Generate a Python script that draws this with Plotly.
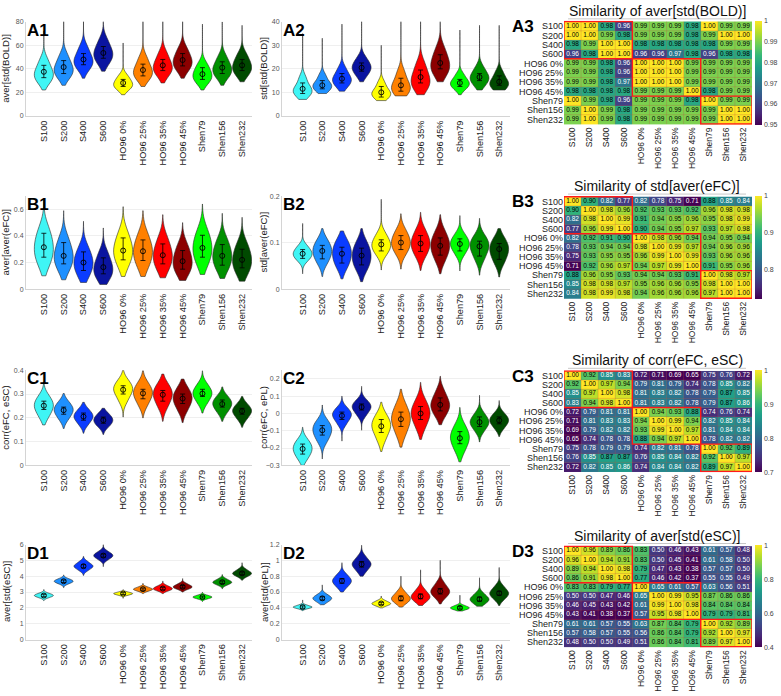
import plotly.graph_objects as go
from plotly.subplots import make_subplots

W, H = 781, 696

cats = ["S100", "S200", "S400", "S600", "HO96 0%", "HO96 25%", "HO96 35%",
        "HO96 45%", "Shen79", "Shen156", "Shen232"]
colors = ["#3ff5f5", "#1e90ff", "#0a3cff", "#0a14a0", "#ffff00", "#ff8000",
          "#ff0000", "#8c0000", "#00ff00", "#009000", "#004a00"]

# ---- violin data: five evenly spaced quantiles (10..90%), tip range, mean, error bar ends
a1_quant = [[29, 33, 36, 40, 47], [33, 37, 40, 44, 51], [40, 44.5, 47, 51, 58],
            [45, 50, 53, 57, 64], [22.5, 25.5, 27, 30, 34], [31.5, 35, 38, 42, 49],
            [35, 39, 42, 46, 53], [39, 43.5, 46.5, 50.5, 57], [28.5, 32, 35, 38.5, 44],
            [33, 37, 40, 43.5, 50], [35, 39, 42, 46, 52]]
a1_span = [[22, 72], [26, 85], [32, 85], [38, 85], [18, 62], [25, 85], [28, 85],
           [32, 85], [22, 78], [26, 80], [29, 77]]
a1_mean = [37.5, 41.5, 48, 53.5, 28, 39, 43, 47.5, 35.5, 41, 43]
a1_err = [[32.5, 43], [36, 47], [43.5, 53], [49, 59], [25, 31], [34, 44], [38.5, 48],
          [42.5, 53], [31, 41], [36, 46], [38.5, 48]]

a2_quant = [[8.5, 10, 11, 12.5, 16], [10.5, 12, 13, 14, 17], [12.5, 14.5, 15.5, 17, 20],
            [17, 19.5, 20.5, 22, 24.5], [7.5, 8.8, 9.7, 11, 14], [9.5, 11, 12.5, 14.5, 18.5],
            [11.5, 13.5, 15.5, 18, 22], [17.5, 20, 22, 24.5, 28.5], [11.5, 13, 14, 15, 17.5],
            [13, 15, 16.5, 17.5, 20.5], [11.5, 13, 14, 15.5, 18.5]]
a2_span = [[7, 35], [9.5, 33], [10.5, 39], [14.5, 45], [6.5, 30], [8.5, 45], [9, 45],
           [14.5, 45], [9, 36.5], [11, 38.5], [11, 38.5]]
a2_mean = [11.5, 13, 15.8, 20.5, 10, 13, 16.5, 22.5, 14, 16.5, 14.5]
a2_err = [[9.5, 14], [11.5, 15], [14, 18], [19, 22.5], [8, 12.5], [10.5, 16], [14, 19.5],
          [20, 26], [12.5, 15.5], [15, 18], [13, 17]]

b1_quant = [[0.19, 0.26, 0.31, 0.37, 0.45], [0.15, 0.21, 0.25, 0.30, 0.38],
            [0.10, 0.16, 0.20, 0.24, 0.31], [0.08, 0.12, 0.16, 0.20, 0.27],
            [0.18, 0.25, 0.29, 0.34, 0.42], [0.17, 0.24, 0.285, 0.33, 0.41],
            [0.15, 0.21, 0.255, 0.30, 0.38], [0.12, 0.17, 0.21, 0.26, 0.33],
            [0.19, 0.26, 0.31, 0.36, 0.44], [0.15, 0.21, 0.25, 0.30, 0.37],
            [0.12, 0.18, 0.22, 0.27, 0.34]]
b1_span = [[0.10, 0.67], [0.07, 0.59], [0.05, 0.51], [0.035, 0.46], [0.095, 0.62],
           [0.095, 0.59], [0.085, 0.56], [0.065, 0.50], [0.11, 0.64], [0.08, 0.57],
           [0.06, 0.54]]
b1_mean = [0.315, 0.25, 0.20, 0.165, 0.29, 0.285, 0.255, 0.21, 0.31, 0.25, 0.22]
b1_err = [[0.24, 0.42], [0.19, 0.35], [0.14, 0.28], [0.115, 0.235], [0.22, 0.385],
          [0.215, 0.37], [0.19, 0.34], [0.15, 0.29], [0.24, 0.405], [0.18, 0.335],
          [0.16, 0.30]]

b2_quant = [[0.062, 0.071, 0.076, 0.082, 0.092], [0.057, 0.072, 0.082, 0.090, 0.105],
            [0.048, 0.064, 0.076, 0.088, 0.103], [0.043, 0.059, 0.071, 0.083, 0.100],
            [0.075, 0.088, 0.095, 0.103, 0.118], [0.077, 0.092, 0.100, 0.110, 0.126],
            [0.072, 0.089, 0.098, 0.108, 0.126], [0.063, 0.082, 0.093, 0.104, 0.122],
            [0.076, 0.090, 0.097, 0.104, 0.117], [0.064, 0.082, 0.092, 0.100, 0.113],
            [0.057, 0.074, 0.085, 0.094, 0.108]]
b2_span = [[0.033, 0.141], [0.027, 0.13], [0.022, 0.125], [0.016, 0.13], [0.041, 0.193],
           [0.043, 0.162], [0.04, 0.165], [0.033, 0.16], [0.039, 0.158], [0.03, 0.152],
           [0.026, 0.13]]
b2_mean = [0.076, 0.082, 0.076, 0.072, 0.096, 0.100, 0.098, 0.093, 0.097, 0.092, 0.086]
b2_err = [[0.066, 0.085], [0.065, 0.094], [0.056, 0.090], [0.052, 0.088], [0.082, 0.106],
          [0.085, 0.115], [0.081, 0.115], [0.073, 0.110], [0.082, 0.108], [0.071, 0.103],
          [0.064, 0.098]]

c1_quant = [[0.205, 0.235, 0.25, 0.265, 0.29], [0.195, 0.22, 0.232, 0.244, 0.265],
            [0.172, 0.195, 0.205, 0.215, 0.235], [0.163, 0.18, 0.19, 0.20, 0.217],
            [0.272, 0.305, 0.318, 0.332, 0.355], [0.255, 0.288, 0.303, 0.318, 0.345],
            [0.245, 0.28, 0.297, 0.313, 0.34], [0.232, 0.265, 0.281, 0.297, 0.325],
            [0.262, 0.29, 0.302, 0.315, 0.34], [0.222, 0.247, 0.258, 0.27, 0.29],
            [0.195, 0.218, 0.228, 0.238, 0.258]]
c1_span = [[0.17, 0.351], [0.155, 0.302], [0.135, 0.265], [0.13, 0.24], [0.203, 0.40],
           [0.20, 0.398], [0.185, 0.384], [0.18, 0.363], [0.22, 0.398], [0.185, 0.33],
           [0.16, 0.29]]
c1_mean = [0.251, 0.232, 0.205, 0.19, 0.318, 0.303, 0.297, 0.281, 0.302, 0.258, 0.228]
c1_err = [[0.235, 0.27], [0.215, 0.245], [0.19, 0.22], [0.177, 0.203], [0.30, 0.335],
          [0.28, 0.32], [0.27, 0.315], [0.26, 0.30], [0.29, 0.32], [0.245, 0.275],
          [0.215, 0.24]]

c2_quant = [[-0.26, -0.225, -0.205, -0.185, -0.155], [-0.16, -0.12, -0.097, -0.075, -0.045],
            [-0.06, -0.025, -0.01, 0.005, 0.03], [-0.01, 0.022, 0.037, 0.05, 0.075],
            [-0.15, -0.095, -0.074, -0.05, -0.01], [-0.12, -0.06, -0.033, -0.005, 0.05],
            [-0.08, -0.025, 0.0, 0.025, 0.075], [-0.01, 0.03, 0.05, 0.075, 0.125],
            [-0.215, -0.165, -0.14, -0.115, -0.07], [-0.10, -0.065, -0.05, -0.035, 0.0],
            [-0.085, -0.055, -0.04, -0.027, 0.0]]
c2_span = [[-0.30, -0.08], [-0.263, 0.049], [-0.16, 0.10], [-0.097, 0.157], [-0.22, 0.065],
           [-0.195, 0.14], [-0.15, 0.18], [-0.065, 0.215], [-0.28, 0.035], [-0.165, 0.105],
           [-0.133, 0.075]]
c2_mean = [-0.205, -0.097, -0.013, 0.037, -0.074, -0.033, 0.0, 0.05, -0.143, -0.05, -0.04]
c2_err = [[-0.235, -0.177], [-0.125, -0.07], [-0.035, 0.008], [0.02, 0.055], [-0.11, -0.035],
          [-0.075, 0.008], [-0.035, 0.04], [0.015, 0.09], [-0.175, -0.105], [-0.075, -0.02],
          [-0.06, -0.02]]

d1_quant = [[2.65, 2.74, 2.78, 2.83, 2.92], [3.52, 3.63, 3.68, 3.73, 3.84],
            [4.38, 4.56, 4.63, 4.71, 4.90], [5.05, 5.22, 5.30, 5.38, 5.55],
            [2.80, 2.87, 2.90, 2.93, 3.00], [3.05, 3.14, 3.18, 3.22, 3.32],
            [3.08, 3.17, 3.22, 3.28, 3.40], [3.18, 3.28, 3.33, 3.39, 3.52],
            [2.57, 2.65, 2.68, 2.72, 2.80], [3.45, 3.57, 3.62, 3.68, 3.82],
            [3.98, 4.12, 4.18, 4.25, 4.42]]
d1_span = [[2.45, 3.16], [3.27, 4.08], [4.05, 5.25], [4.6, 6.0], [2.6, 3.15], [2.9, 3.55],
           [2.9, 3.7], [3.0, 3.85], [2.4, 3.0], [3.2, 4.1], [3.75, 4.85]]
d1_mean = [2.78, 3.68, 4.63, 5.30, 2.90, 3.18, 3.22, 3.33, 2.68, 3.62, 4.18]
d1_err = [[2.70, 2.86], [3.60, 3.76], [4.53, 4.73], [5.20, 5.40], [2.84, 2.96], [3.11, 3.25],
          [3.14, 3.30], [3.25, 3.41], [2.62, 2.74], [3.54, 3.70], [4.09, 4.27]]

d2_quant = [[0.39, 0.405, 0.41, 0.418, 0.435], [0.47, 0.505, 0.52, 0.535, 0.57],
            [0.66, 0.715, 0.74, 0.765, 0.82], [0.86, 0.925, 0.95, 0.975, 1.04],
            [0.425, 0.445, 0.455, 0.465, 0.49], [0.46, 0.50, 0.52, 0.545, 0.60],
            [0.48, 0.52, 0.545, 0.57, 0.63], [0.53, 0.585, 0.61, 0.64, 0.71],
            [0.375, 0.392, 0.40, 0.41, 0.43], [0.45, 0.49, 0.51, 0.53, 0.58],
            [0.51, 0.56, 0.585, 0.61, 0.67]]
d2_span = [[0.365, 0.50], [0.44, 0.69], [0.60, 0.97], [0.80, 1.19], [0.40, 0.55],
           [0.41, 0.80], [0.43, 0.88], [0.45, 1.0], [0.36, 0.56], [0.42, 0.78], [0.43, 0.91]]
d2_mean = [0.41, 0.52, 0.74, 0.95, 0.455, 0.52, 0.545, 0.61, 0.40, 0.51, 0.585]
d2_err = [[0.395, 0.425], [0.50, 0.54], [0.71, 0.77], [0.915, 0.985], [0.44, 0.47],
          [0.49, 0.55], [0.515, 0.575], [0.575, 0.645], [0.385, 0.415], [0.485, 0.535],
          [0.56, 0.61]]

# ---- similarity matrices
a3_sim = [
    [1.00, 1.00, 0.98, 0.96, 0.99, 0.99, 0.99, 0.98, 1.00, 0.99, 0.99],
    [1.00, 1.00, 0.99, 0.98, 0.99, 0.99, 0.99, 0.98, 0.99, 1.00, 1.00],
    [0.98, 0.99, 1.00, 1.00, 0.98, 0.98, 0.98, 0.98, 0.98, 0.99, 0.99],
    [0.96, 0.98, 1.00, 1.00, 0.96, 0.96, 0.97, 0.98, 0.96, 0.98, 0.98],
    [0.99, 0.99, 0.98, 0.96, 1.00, 1.00, 1.00, 0.99, 0.99, 0.99, 0.99],
    [0.99, 0.99, 0.98, 0.96, 1.00, 1.00, 1.00, 0.99, 0.99, 0.99, 0.99],
    [0.99, 0.99, 0.98, 0.97, 1.00, 1.00, 1.00, 0.99, 0.99, 0.99, 0.99],
    [0.98, 0.98, 0.98, 0.98, 0.99, 0.99, 0.99, 1.00, 0.98, 0.99, 0.99],
    [1.00, 0.99, 0.98, 0.96, 0.99, 0.99, 0.99, 0.98, 1.00, 0.99, 0.99],
    [0.99, 1.00, 0.99, 0.98, 0.99, 0.99, 0.99, 0.99, 0.99, 1.00, 1.00],
    [0.99, 1.00, 0.99, 0.98, 0.99, 0.99, 0.99, 0.99, 0.99, 1.00, 1.00]]
b3_sim = [
    [1.00, 0.90, 0.82, 0.77, 0.82, 0.78, 0.75, 0.71, 0.88, 0.85, 0.84],
    [0.90, 1.00, 0.98, 0.96, 0.92, 0.93, 0.93, 0.92, 0.96, 0.98, 0.98],
    [0.82, 0.98, 1.00, 0.99, 0.91, 0.94, 0.95, 0.96, 0.95, 0.98, 0.99],
    [0.77, 0.96, 0.99, 1.00, 0.90, 0.94, 0.95, 0.97, 0.93, 0.97, 0.98],
    [0.82, 0.92, 0.91, 0.90, 1.00, 0.98, 0.96, 0.94, 0.94, 0.95, 0.94],
    [0.78, 0.93, 0.94, 0.94, 0.98, 1.00, 0.99, 0.97, 0.94, 0.96, 0.96],
    [0.75, 0.93, 0.95, 0.95, 0.96, 0.99, 1.00, 0.99, 0.93, 0.96, 0.96],
    [0.71, 0.92, 0.96, 0.97, 0.94, 0.97, 0.99, 1.00, 0.91, 0.95, 0.96],
    [0.88, 0.96, 0.95, 0.93, 0.94, 0.94, 0.93, 0.91, 1.00, 0.98, 0.97],
    [0.85, 0.98, 0.98, 0.97, 0.95, 0.96, 0.96, 0.95, 0.98, 1.00, 1.00],
    [0.84, 0.98, 0.99, 0.98, 0.94, 0.96, 0.96, 0.96, 0.97, 1.00, 1.00]]
c3_sim = [
    [1.00, 0.92, 0.85, 0.83, 0.72, 0.71, 0.69, 0.65, 0.75, 0.76, 0.72],
    [0.92, 1.00, 0.97, 0.94, 0.79, 0.81, 0.79, 0.74, 0.78, 0.85, 0.82],
    [0.85, 0.97, 1.00, 0.98, 0.81, 0.83, 0.82, 0.78, 0.79, 0.87, 0.85],
    [0.83, 0.94, 0.98, 1.00, 0.81, 0.83, 0.82, 0.78, 0.79, 0.87, 0.86],
    [0.72, 0.79, 0.81, 0.81, 1.00, 0.94, 0.93, 0.88, 0.74, 0.76, 0.74],
    [0.71, 0.81, 0.83, 0.83, 0.94, 1.00, 0.99, 0.94, 0.82, 0.85, 0.84],
    [0.69, 0.79, 0.82, 0.82, 0.93, 0.99, 1.00, 0.97, 0.81, 0.84, 0.84],
    [0.65, 0.74, 0.78, 0.78, 0.88, 0.94, 0.97, 1.00, 0.78, 0.82, 0.82],
    [0.75, 0.78, 0.79, 0.79, 0.74, 0.82, 0.81, 0.78, 1.00, 0.92, 0.89],
    [0.76, 0.85, 0.87, 0.87, 0.76, 0.85, 0.84, 0.82, 0.92, 1.00, 0.97],
    [0.72, 0.82, 0.85, 0.86, 0.74, 0.84, 0.84, 0.82, 0.89, 0.97, 1.00]]
d3_sim = [
    [1.00, 0.96, 0.89, 0.86, 0.83, 0.50, 0.46, 0.43, 0.61, 0.57, 0.48],
    [0.96, 1.00, 0.94, 0.91, 0.83, 0.50, 0.45, 0.41, 0.61, 0.58, 0.50],
    [0.89, 0.94, 1.00, 0.98, 0.79, 0.47, 0.43, 0.38, 0.57, 0.57, 0.50],
    [0.86, 0.91, 0.98, 1.00, 0.77, 0.46, 0.42, 0.37, 0.55, 0.55, 0.49],
    [0.83, 0.83, 0.79, 0.77, 1.00, 0.65, 0.61, 0.57, 0.63, 0.56, 0.51],
    [0.50, 0.50, 0.47, 0.46, 0.65, 1.00, 0.99, 0.95, 0.87, 0.86, 0.86],
    [0.46, 0.45, 0.43, 0.42, 0.61, 0.99, 1.00, 0.98, 0.84, 0.84, 0.84],
    [0.43, 0.41, 0.38, 0.37, 0.57, 0.95, 0.98, 1.00, 0.79, 0.79, 0.81],
    [0.61, 0.61, 0.57, 0.55, 0.63, 0.87, 0.84, 0.79, 1.00, 0.92, 0.89],
    [0.57, 0.58, 0.57, 0.55, 0.56, 0.86, 0.84, 0.79, 0.92, 1.00, 0.97],
    [0.48, 0.50, 0.50, 0.49, 0.51, 0.86, 0.84, 0.81, 0.89, 0.97, 1.00]]

blocks = [(0, 3), (4, 7), (8, 10)]  # parcellation families boxed in red

FONT = "Liberation Sans, Arial, Helvetica, sans-serif"

# pixel layout (top, bottom) per row, (left, right) per column
row_v = [(18, 113), (194, 288), (370, 466), (546, 642)]
row_h = [(17, 122), (194, 298), (370, 473), (547, 650)]
col_x = [(26, 252), (282, 510), (564, 752)]


def px_x(a, b):
    return [a / W, b / W]


def px_y(top, bot):
    return [1 - bot / H, 1 - top / H]


fig = make_subplots(rows=4, cols=3)


def violin_panel(r, c, quant, span, mean, err):
    for i, cat in enumerate(cats):
        fig.add_trace(go.Violin(
            x=[cat] * len(quant[i]), y=quant[i], fillcolor=colors[i],
            line=dict(color="#2a2a2a", width=0.6), opacity=1, width=0.96,
            spanmode="manual", span=span[i], points=False, scalemode="width",
            showlegend=False, hoverinfo="skip"), row=r, col=c)
    fig.add_trace(go.Scatter(
        x=cats, y=mean, mode="markers",
        marker=dict(symbol="circle-open", size=5, color="black", line=dict(width=0.9)),
        error_y=dict(type="data", symmetric=False,
                     array=[e[1] - m for e, m in zip(err, mean)],
                     arrayminus=[m - e[0] for e, m in zip(err, mean)],
                     color="black", thickness=0.8, width=2.5),
        showlegend=False, hoverinfo="skip"), row=r, col=c)


def heat_panel(r, z, zmin, zmax, dtick):
    top, bot = row_h[r - 1]
    fig.add_trace(go.Heatmap(
        z=z, x=cats, y=cats, zmin=zmin, zmax=zmax, colorscale="Viridis",
        colorbar=dict(x=755 / W, xanchor="left", y=1 - (top + bot) / 2 / H, yanchor="middle",
                      len=(bot - top) / H, thickness=7, outlinewidth=0, dtick=dtick,
                      tick0=1, ticks="", xpad=0, ypad=0,
                      tickfont=dict(size=7, color="#444")),
        hoverinfo="skip"), row=r, col=3)
    xs, ys, txt, tc = [], [], [], []
    for i in range(len(cats)):
        for j in range(len(cats)):
            v = z[i][j]
            xs.append(cats[j])
            ys.append(cats[i])
            txt.append(f"{v:.2f}")
            tc.append("black" if (v - zmin) / (zmax - zmin) > 0.55 else "white")
    fig.add_trace(go.Scatter(x=xs, y=ys, mode="text", text=txt,
                             textfont=dict(size=6.5, color=tc, family=FONT),
                             showlegend=False, hoverinfo="skip"), row=r, col=3)
    xr, yr = f"x{3 * r}", f"y{3 * r}"
    for k in range(1, len(cats)):
        for d in (dict(x0=k - 0.5, x1=k - 0.5, y0=-0.5, y1=10.5),
                  dict(x0=-0.5, x1=10.5, y0=k - 0.5, y1=k - 0.5)):
            fig.add_shape(type="line", xref=xr, yref=yr,
                          line=dict(color="rgba(190,80,60,0.45)", width=0.6), **d)
    for a, b in blocks:
        fig.add_shape(type="rect", xref=xr, yref=yr, x0=a - 0.5, x1=b + 0.5,
                      y0=a - 0.5, y1=b + 0.5, line=dict(color="#ff1a1a", width=1.4))


violin_panel(1, 1, a1_quant, a1_span, a1_mean, a1_err)
violin_panel(1, 2, a2_quant, a2_span, a2_mean, a2_err)
violin_panel(2, 1, b1_quant, b1_span, b1_mean, b1_err)
violin_panel(2, 2, b2_quant, b2_span, b2_mean, b2_err)
violin_panel(3, 1, c1_quant, c1_span, c1_mean, c1_err)
violin_panel(3, 2, c2_quant, c2_span, c2_mean, c2_err)
violin_panel(4, 1, d1_quant, d1_span, d1_mean, d1_err)
violin_panel(4, 2, d2_quant, d2_span, d2_mean, d2_err)
heat_panel(1, a3_sim, 0.95, 1.0, 0.01)
heat_panel(2, b3_sim, 0.72, 1.0, 0.1)
heat_panel(3, c3_sim, 0.70, 1.0, 0.1)
heat_panel(4, d3_sim, 0.40, 1.0, 0.2)

y_ranges = {(1, 1): ([0, 80], 20), (1, 2): ([0, 40], 10),
            (2, 1): ([0, 0.7], 0.2), (2, 2): ([0, 0.2], 0.1),
            (3, 1): ([0, 0.4], 0.1), (3, 2): ([-0.3, 0.25], 0.1),
            (4, 1): ([0, 6], 1), (4, 2): ([0, 1.2], 0.2)}
y_titles = {(1, 1): "aver[std(BOLD)]", (1, 2): "std[std(BOLD)]",
            (2, 1): "aver[aver(eFC)]", (2, 2): "std[aver(eFC)]",
            (3, 1): "corr(eFC, eSC)", (3, 2): "corr(eFC, ePL)",
            (4, 1): "aver[std(eSC)]", (4, 2): "aver[std(ePL)]"}
h_titles = ["Similarity of aver[std(BOLD)]", "Similarity of std[aver(eFC)]",
            "Similarity of corr(eFC, eSC)", "Similarity of aver[std(eSC)]"]
letters = "ABCD"

annotations = []
for r in range(1, 5):
    for c in range(1, 4):
        n = 3 * (r - 1) + c
        xa, ya = f"xaxis{n}", f"yaxis{n}"
        if c < 3:
            top, bot = row_v[r - 1]
            rng, dt = y_ranges[(r, c)]
            fig.layout[xa].update(
                domain=px_x(*col_x[c - 1]), range=[-0.9, 10.5] if c == 1 else [-1.05, 10.55],
                showgrid=False, showline=True, linecolor="#d4d4d4", linewidth=1,
                tickangle=-90, ticks="", tickfont=dict(size=9.2, color="#222"))
            fig.layout[ya].update(
                domain=px_y(top, bot), range=rng, dtick=dt, showgrid=True,
                gridcolor="#efefef", showline=True, linecolor="#d4d4d4", linewidth=1,
                zeroline=False, ticks="", tickfont=dict(size=7, color="#555"))
            annotations.append(dict(
                text=y_titles[(r, c)], textangle=-90, xref="paper", yref="paper",
                x=(6 if c == 1 else 264) / W, y=1 - (top + bot) / 2 / H,
                xanchor="center", yanchor="middle", showarrow=False,
                font=dict(size=9.5, color="#222")))
            annotations.append(dict(
                text=f"<b>{letters[r - 1]}{c}</b>", xref="paper", yref="paper",
                x=(col_x[c - 1][0] - 1) / W, y=1 - (top - 3) / H,
                xanchor="left", yanchor="top", showarrow=False,
                font=dict(size=17, color="black")))
        else:
            top, bot = row_h[r - 1]
            fig.layout[xa].update(
                domain=px_x(*col_x[2]), showgrid=False, tickangle=-90, ticks="",
                tickmode="array", tickvals=cats, ticktext=cats,
                tickfont=dict(size=8.5, color="#222"), range=[-0.5, 10.5])
            fig.layout[ya].update(
                domain=px_y(top, bot), showgrid=False, autorange="reversed", ticks="",
                tickmode="array", tickvals=cats, ticktext=cats,
                tickfont=dict(size=9, color="#222"))
            annotations.append(dict(
                text=f"<b>{letters[r - 1]}3</b>", xref="paper", yref="paper",
                x=510 / W, y=1 - (top + 6) / H, xanchor="left", yanchor="middle",
                showarrow=False, font=dict(size=17, color="black")))
            annotations.append(dict(
                text=h_titles[r - 1], xref="paper", yref="paper", x=657 / W,
                y=1 - (top - 10) / H, xanchor="center", yanchor="middle",
                showarrow=False, font=dict(size=14, color="#111")))
            fig.add_shape(type="line", xref="paper", yref="paper",
                          x0=568 / W, x1=746 / W, y0=1 - (top - 2) / H, y1=1 - (top - 2) / H,
                          line=dict(color="#c8c8c8", width=1))

fig.update_layout(
    width=W, height=H, margin=dict(l=0, r=0, t=0, b=0),
    paper_bgcolor="white", plot_bgcolor="white", violinmode="overlay",
    font=dict(family=FONT, color="#222"), annotations=annotations,
    showlegend=False)

fig.write_html("out.html", config={"displayModeBar": False},
               post_script="document.body.style.margin='0';")
